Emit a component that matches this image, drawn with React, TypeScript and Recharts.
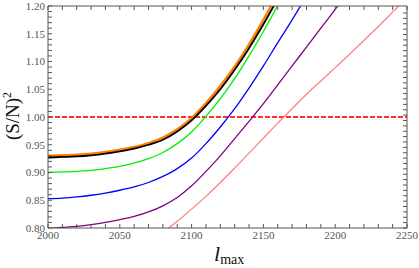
import { LineChart, Line, XAxis, YAxis, ReferenceLine } from 'recharts';

// l_max sample points
const lmax = [2000, 2010, 2020, 2030, 2040, 2050, 2060, 2070, 2080, 2090, 2100, 2110, 2120,
  2130, 2140, 2150, 2160, 2170, 2180, 2190, 2200, 2210, 2220, 2230, 2240, 2250];

// (S/N)^2, one array per curve (null = outside of the drawn range)
const orange = [0.930, 0.931, 0.932, 0.934, 0.937, 0.941, 0.946, 0.953, 0.963, 0.978, 0.998, 1.025, 1.056,
  1.091, 1.131, 1.175, 1.222, null, null, null, null, null, null, null, null, null];
const black = [0.927, 0.928, 0.929, 0.931, 0.934, 0.938, 0.943, 0.950, 0.959, 0.974, 0.994, 1.020, 1.050,
  1.085, 1.124, 1.167, 1.213, null, null, null, null, null, null, null, null, null];
const green = [0.900, 0.901, 0.902, 0.904, 0.907, 0.911, 0.917, 0.925, 0.936, 0.952, 0.973, 1.001, 1.033,
  1.069, 1.110, 1.154, 1.201, 1.250, null, null, null, null, null, null, null, null];
const blue = [0.853, 0.854, 0.856, 0.859, 0.863, 0.868, 0.874, 0.882, 0.893, 0.907, 0.926, 0.952, 0.982,
  1.015, 1.052, 1.092, 1.134, 1.175, 1.218, null, null, null, null, null, null, null];
const purple = [0.799, 0.801, 0.803, 0.806, 0.810, 0.815, 0.821, 0.829, 0.840, 0.855, 0.876, 0.902, 0.930,
  0.961, 0.992, 1.024, 1.058, 1.092, 1.126, 1.160, 1.194, 1.228, null, null, null, null];
const pink = [null, null, null, null, null, null, null, 0.773, 0.792, 0.812, 0.834, 0.857, 0.882,
  0.908, 0.935, 0.962, 0.989, 1.015, 1.041, 1.065, 1.089, 1.113, 1.138, 1.163, 1.189, 1.215];

const threshold = 1.0;

// ticks: every 10 in l_max, every 0.01 in (S/N)^2; labels on the majors only
const xTicks: number[] = [];
for (let v = 2000; v <= 2250; v += 10) xTicks.push(v);
const yTicks: number[] = [];
for (let i = 0; i <= 40; i++) yTicks.push(Math.round((0.8 + i * 0.01) * 100) / 100);
const xLabel = (v: number) => (v % 50 === 0 ? String(v) : '');
const yLabel = (v: number) => (Math.round(v * 100) % 5 === 0 ? v.toFixed(2) : '');

const data = lmax.map((l, i) => ({
  l,
  orange: orange[i],
  black: black[i],
  green: green[i],
  blue: blue[i],
  purple: purple[i],
  pink: pink[i],
}));

const FRAME = '#555';
const XD: [number, number] = [2000, 2250];
const YD: [number, number] = [0.8, 1.2];
const tickFont = { fill: '#555', fontSize: 11, fontFamily: '"Liberation Serif", serif' };
const blank = () => '';
const tl = { stroke: FRAME, strokeWidth: 1 };

export default function App() {
  return (
    <div style={{ position: 'absolute', left: 0, top: 0, width: 419, height: 268, background: '#fff' }}>
      <LineChart width={419} height={268} data={data} margin={{ top: 5, right: 11, bottom: 0, left: 0 }}>
        {/* frame on all four sides, ticks pointing inward */}
        <XAxis dataKey="l" type="number" domain={XD} ticks={xTicks} interval={0} allowDataOverflow
          height={40} tickSize={-4} tickMargin={7} tickFormatter={xLabel}
          axisLine={{ stroke: FRAME }} tickLine={tl} tick={tickFont} />
        <XAxis xAxisId="t" orientation="top" dataKey="l" type="number" domain={XD} ticks={xTicks} interval={0}
          height={1} tickSize={-4} tickMargin={0} tickFormatter={blank} axisLine={{ stroke: FRAME }} tickLine={tl} />
        <YAxis type="number" domain={YD} ticks={yTicks} interval={0} allowDataOverflow width={48}
          tickSize={-4} tickMargin={7} tickFormatter={yLabel}
          axisLine={{ stroke: FRAME }} tickLine={tl} tick={tickFont} />
        <YAxis yAxisId="r" orientation="right" type="number" domain={YD} ticks={yTicks} interval={0}
          width={1} tickSize={-4} tickMargin={0} tickFormatter={blank} axisLine={{ stroke: FRAME }} tickLine={tl} />

        {/* invisible series bound to the top/right frame axes */}
        <Line xAxisId="t" yAxisId="r" dataKey="black" stroke="none" strokeOpacity={0} dot={false}
          isAnimationActive={false} />

        <ReferenceLine y={threshold} stroke="#ff3030" strokeWidth={1.8} strokeDasharray="5 2" />
        <Line dataKey="pink" stroke="#ff8080" strokeWidth={1.3} dot={false} type="monotone" isAnimationActive={false} />
        <Line dataKey="purple" stroke="#800080" strokeWidth={1.3} dot={false} type="monotone" isAnimationActive={false} />
        <Line dataKey="blue" stroke="#0000ff" strokeWidth={1.3} dot={false} type="monotone" isAnimationActive={false} />
        <Line dataKey="green" stroke="#00ee00" strokeWidth={1.3} dot={false} type="monotone" isAnimationActive={false} />
        <Line dataKey="orange" stroke="#ff8000" strokeWidth={2.4} dot={false} type="monotone" isAnimationActive={false} />
        <Line dataKey="black" stroke="#000000" strokeWidth={1.8} dot={false} type="monotone" isAnimationActive={false} />
      </LineChart>
      <svg width={419} height={268} style={{ position: 'absolute', left: 0, top: 0, pointerEvents: 'none' }}>
        <text transform="translate(19,116) rotate(-90)" textAnchor="middle"
          style={{ fontFamily: '"Liberation Serif", serif', fontSize: 19, fill: '#111' }}>
          (S/N)<tspan dy={-8} fontSize={12}>2</tspan>
        </text>
        <text x={214} y={261} style={{ fontFamily: '"Liberation Serif", serif', fill: '#111' }}>
          <tspan fontSize={22} fontStyle="italic">l</tspan>
          <tspan fontSize={14} dy={3}>max</tspan>
        </text>
      </svg>
    </div>
  );
}
